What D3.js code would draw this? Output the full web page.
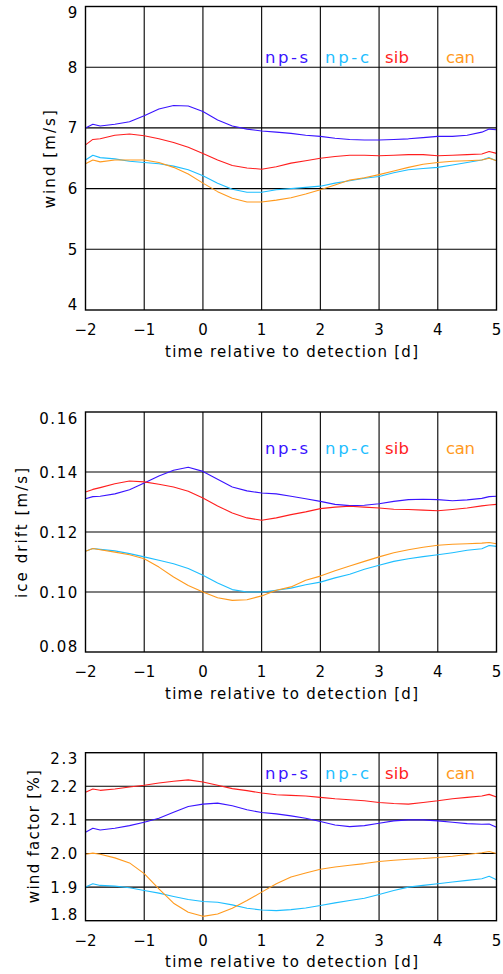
<!DOCTYPE html>
<html>
<head>
<meta charset="utf-8">
<script src="https://cdn.jsdelivr.net/npm/d3@7"></script>
<style>
  html, body { margin: 0; padding: 0; background: #fff; }
  svg { display: block; }
  text { font-family: "DejaVu Sans", sans-serif; fill: #000; }
</style>
</head>
<body>
<div id="chart"></div>
<script>
// Days relative to detection
const days = [-2, -1.875, -1.75, -1.5, -1.25, -1, -0.75, -0.5, -0.25, 0, 0.25, 0.5, 0.75, 1,
  1.25, 1.5, 1.75, 2, 2.25, 2.5, 2.75, 3, 3.25, 3.5, 3.75, 4, 4.25, 4.5, 4.75, 4.875, 5];

const regions = ["np-s", "np-c", "sib", "can"];
const regionColors = ["#3a14ff", "#1ebeff", "#ff1e1e", "#ff9a1e"];

const xTicks = [-2, -1, 0, 1, 2, 3, 4, 5];

// Wind speed [m/s]
const windNpS = [7.00, 7.06, 7.03, 7.06, 7.10, 7.20, 7.31, 7.37, 7.36, 7.27, 7.13, 7.03, 6.98, 6.95,
  6.93, 6.91, 6.88, 6.86, 6.83, 6.81, 6.80, 6.80, 6.81, 6.82, 6.84, 6.86, 6.86, 6.88, 6.93, 6.98, 6.97];
const windNpC = [6.47, 6.55, 6.51, 6.49, 6.45, 6.43, 6.41, 6.37, 6.31, 6.21, 6.09, 5.99, 5.94, 5.94,
  5.98, 6.00, 6.02, 6.04, 6.09, 6.13, 6.17, 6.20, 6.26, 6.31, 6.33, 6.35, 6.39, 6.43, 6.47, 6.51, 6.46];
const windSib = [6.72, 6.81, 6.82, 6.88, 6.90, 6.87, 6.82, 6.76, 6.68, 6.58, 6.47, 6.38, 6.34, 6.32,
  6.36, 6.42, 6.46, 6.50, 6.53, 6.55, 6.55, 6.54, 6.55, 6.56, 6.56, 6.54, 6.55, 6.56, 6.57, 6.61, 6.58];
const windCan = [6.41, 6.47, 6.44, 6.47, 6.47, 6.47, 6.43, 6.35, 6.24, 6.09, 5.95, 5.84, 5.78, 5.78,
  5.81, 5.85, 5.91, 5.98, 6.06, 6.14, 6.18, 6.23, 6.29, 6.35, 6.40, 6.43, 6.45, 6.46, 6.47, 6.50, 6.46];
const windTicks = [4, 5, 6, 7, 8, 9];

// Ice drift speed [m/s]
const driftNpS = [0.1311, 0.1318, 0.1319, 0.1327, 0.1341, 0.1363, 0.1387, 0.1406, 0.1416, 0.1402,
  0.1376, 0.1350, 0.1337, 0.1330, 0.1327, 0.1319, 0.1311, 0.1302, 0.1292, 0.1288, 0.1289, 0.1294,
  0.1302, 0.1308, 0.1309, 0.1308, 0.1304, 0.1307, 0.1312, 0.1318, 0.1319];
const driftNpC = [0.1136, 0.1145, 0.1142, 0.1137, 0.1128, 0.1117, 0.1106, 0.1094, 0.1078, 0.1056,
  0.1030, 0.1008, 0.1000, 0.1000, 0.1006, 0.1013, 0.1024, 0.1033, 0.1047, 0.1059, 0.1076, 0.1089,
  0.1102, 0.1111, 0.1118, 0.1124, 0.1131, 0.1139, 0.1144, 0.1155, 0.1152];
const driftSib = [0.1333, 0.1342, 0.1348, 0.1361, 0.1370, 0.1367, 0.1359, 0.1350, 0.1336, 0.1313,
  0.1287, 0.1263, 0.1247, 0.1239, 0.1247, 0.1258, 0.1267, 0.1278, 0.1283, 0.1286, 0.1283, 0.1280,
  0.1276, 0.1275, 0.1273, 0.1271, 0.1275, 0.1280, 0.1287, 0.1290, 0.1292];
const driftCan = [0.1136, 0.1145, 0.1141, 0.1133, 0.1124, 0.1111, 0.1083, 0.1050, 0.1022, 0.1000,
  0.0981, 0.0972, 0.0974, 0.0987, 0.1006, 0.1017, 0.1039, 0.1053, 0.1071, 0.1087, 0.1102, 0.1117,
  0.1131, 0.1141, 0.1149, 0.1156, 0.1159, 0.1161, 0.1163, 0.1165, 0.1161];
const driftTicks = [0.08, 0.10, 0.12, 0.14, 0.16];

// Wind factor [%]
const factorNpS = [2.063, 2.075, 2.070, 2.075, 2.083, 2.093, 2.105, 2.123, 2.140, 2.147, 2.150, 2.142,
  2.130, 2.122, 2.118, 2.112, 2.105, 2.095, 2.085, 2.080, 2.083, 2.090, 2.097, 2.100, 2.100, 2.097,
  2.093, 2.089, 2.087, 2.088, 2.078];
const factorNpC = [1.900, 1.910, 1.905, 1.903, 1.898, 1.890, 1.882, 1.872, 1.863, 1.857, 1.855, 1.847,
  1.837, 1.832, 1.830, 1.833, 1.838, 1.845, 1.853, 1.860, 1.867, 1.878, 1.890, 1.900, 1.905, 1.910,
  1.915, 1.920, 1.925, 1.932, 1.922];
const factorSib = [2.182, 2.192, 2.188, 2.192, 2.198, 2.203, 2.210, 2.215, 2.219, 2.213, 2.203, 2.193,
  2.187, 2.180, 2.175, 2.173, 2.171, 2.167, 2.163, 2.160, 2.157, 2.152, 2.149, 2.147, 2.152, 2.157,
  2.163, 2.167, 2.171, 2.176, 2.168];
const factorCan = [1.998, 2.001, 1.998, 1.987, 1.972, 1.940, 1.895, 1.852, 1.825, 1.813, 1.820, 1.837,
  1.860, 1.885, 1.910, 1.930, 1.942, 1.953, 1.960, 1.965, 1.970, 1.976, 1.980, 1.983, 1.985, 1.988,
  1.992, 1.997, 2.002, 2.006, 2.000];
const factorTicks = [1.8, 1.9, 2.0, 2.1, 2.2, 2.3];

const W = 503, H = 974;
const left = 85.5, right = 496.5;

const panels = [
  { title: "wind [m/s]", series: [windNpS, windNpC, windSib, windCan], ticks: windTicks, fmt: d3.format("d"),
    top: 6.5, bottom: 310, titleX: 55, titleLen: 98, legendDy: 56 },
  { title: "ice drift [m/s]", series: [driftNpS, driftNpC, driftSib, driftCan], ticks: driftTicks, fmt: d3.format(".2f"),
    top: 412, bottom: 652, titleX: 27, titleLen: 130, legendDy: 42 },
  { title: "wind factor [%]", series: [factorNpS, factorNpC, factorSib, factorCan], ticks: factorTicks, fmt: d3.format(".1f"),
    top: 752.7, bottom: 920.7, titleX: 38.5, titleLen: 133, legendDy: 26.5 }
];

const legendX = [265, 325, 385, 446];
const legendLen = [43, 44, 24, 29];

const svg = d3.select("#chart").append("svg")
  .attr("width", W).attr("height", H).attr("viewBox", `0 0 ${W} ${H}`);

const x = d3.scaleLinear().domain([-2, 5]).range([left, right]);

panels.forEach((p, pi) => {
  const ticks = p.ticks;
  const y = d3.scaleLinear().domain([ticks[0], ticks[ticks.length - 1]]).range([p.bottom, p.top]);
  const g = svg.append("g");

  const clipId = "clip" + pi;
  svg.append("clipPath").attr("id", clipId)
    .append("rect").attr("x", left).attr("y", p.top).attr("width", right - left).attr("height", p.bottom - p.top);

  // grid
  g.selectAll("line.vg").data(xTicks.slice(1, -1)).join("line")
    .attr("x1", d => x(d)).attr("x2", d => x(d)).attr("y1", p.top).attr("y2", p.bottom)
    .attr("stroke", "#000").attr("stroke-width", 1.1);
  g.selectAll("line.hg").data(ticks.slice(1, -1)).join("line")
    .attr("x1", left).attr("x2", right).attr("y1", d => y(d)).attr("y2", d => y(d))
    .attr("stroke", "#000").attr("stroke-width", 1.1);

  // series
  const line = d3.line().x((d, i) => x(days[i])).y(d => y(d));
  g.append("g").attr("clip-path", `url(#${clipId})`)
    .selectAll("path").data(p.series).join("path")
    .attr("d", d => line(d)).attr("fill", "none")
    .attr("stroke", (d, i) => regionColors[i]).attr("stroke-width", 1.1)
    .attr("stroke-linejoin", "round");

  // frame
  g.append("rect").attr("x", left).attr("y", p.top).attr("width", right - left).attr("height", p.bottom - p.top)
    .attr("fill", "none").attr("stroke", "#000").attr("stroke-width", 1.4);

  // legend
  g.selectAll("text.leg").data(regions).join("text")
    .attr("x", (d, i) => legendX[i]).attr("y", p.top + p.legendDy)
    .attr("textLength", (d, i) => legendLen[i]).attr("lengthAdjust", "spacing")
    .style("font-size", "16.5px")
    .style("fill", (d, i) => regionColors[i])
    .text(d => d);

  // y tick labels (end labels nudged inward)
  g.selectAll("text.yt").data(ticks).join("text")
    .attr("x", 79).attr("y", (d, i) => y(d) + 5.5 + (i === 0 ? -6 : i === ticks.length - 1 ? 6 : 0))
    .attr("text-anchor", "end")
    .style("font-size", "15px").style("letter-spacing", "1.6px")
    .text(d => p.fmt(d));

  // x tick labels
  g.selectAll("text.xt").data(xTicks).join("text")
    .attr("x", d => x(d)).attr("y", p.bottom + 25)
    .attr("text-anchor", "middle")
    .style("font-size", "15px")
    .text(d => d < 0 ? "\u2212" + Math.abs(d) : String(d));

  // x title
  g.append("text").attr("x", (left + right) / 2 + 0.5).attr("y", p.bottom + 46.5)
    .attr("text-anchor", "middle")
    .attr("textLength", 253).attr("lengthAdjust", "spacing")
    .style("font-size", "15px")
    .text("time relative to detection [d]");

  // y title
  g.append("text")
    .attr("transform", `translate(${p.titleX},${(p.top + p.bottom) / 2 + (pi === 2 ? 0 : 1)}) rotate(-90)`)
    .attr("text-anchor", "middle")
    .attr("textLength", p.titleLen).attr("lengthAdjust", "spacing")
    .style("font-size", "15px")
    .text(p.title);
});
</script>
</body>
</html>
